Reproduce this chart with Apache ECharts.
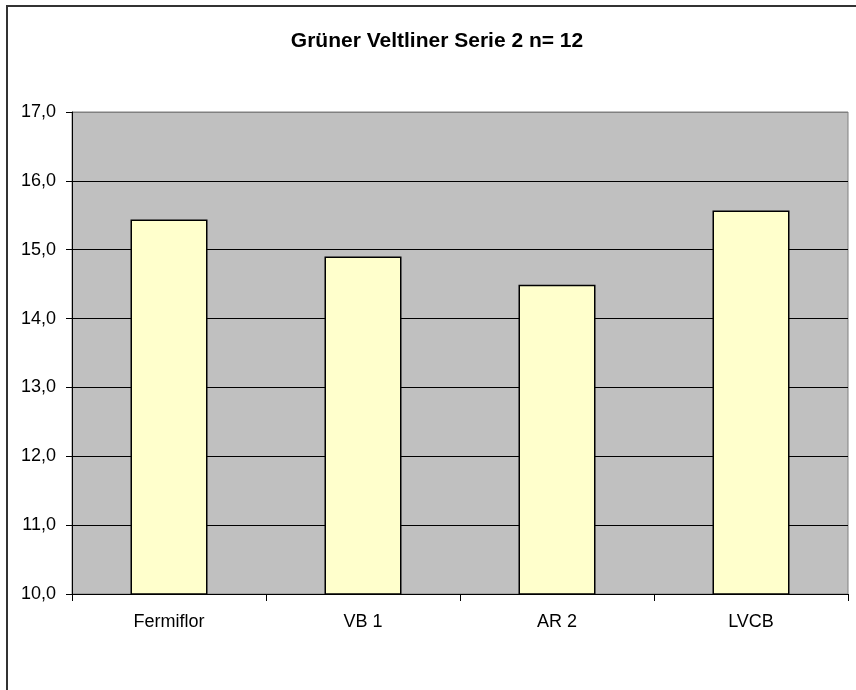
<!DOCTYPE html>
<html>
<head>
<meta charset="utf-8">
<script src="https://cdn.jsdelivr.net/npm/echarts@6/dist/echarts.min.js"></script>
<style>
  html, body { margin: 0; padding: 0; background: #fff; }
  #chart { width: 856px; height: 690px; }
</style>
</head>
<body>
<div id="chart"></div>
<script>
// Kategorien und Werte
var categories = ['Fermiflor', 'VB 1', 'AR 2', 'LVCB'];
var values = [15.44, 14.90, 14.49, 15.57];
var yTicks = [10, 11, 12, 13, 14, 15, 16, 17];

var chart = echarts.init(document.getElementById('chart'), null, { renderer: 'canvas' });

// oberste Linie grau wie der Rahmen
var gridColors = yTicks.map(function (t, i) { return i === yTicks.length - 1 ? '#808080' : '#000'; });

var option = {
  animation: false,
  backgroundColor: '#ffffff',
  title: {
    text: 'Grüner Veltliner Serie 2 n= 12',
    left: 432,
    textAlign: 'center',
    top: 26,
    textStyle: { fontFamily: 'Liberation Sans, Arial', fontWeight: 'bold', fontSize: 21, color: '#000' }
  },
  // äußerer Rahmen
  graphic: [{
    type: 'rect',
    shape: { x: 7, y: 6, width: 900, height: 800 },
    style: { fill: 'none', stroke: '#333', lineWidth: 2 },
    silent: true
  }],
  grid: {
    left: 72, right: 8, top: 112, bottom: 96,
    show: true,
    backgroundColor: '#c0c0c0',
    borderColor: '#808080',
    borderWidth: 1
  },
  xAxis: {
    type: 'category',
    data: categories,
    axisLine: { lineStyle: { color: '#000', width: 1 } },
    axisTick: { show: true, length: 7, lineStyle: { color: '#000' } },
    axisLabel: { color: '#000', fontSize: 18, fontFamily: 'Liberation Sans, Arial', margin: 19 }
  },
  yAxis: {
    type: 'value',
    min: yTicks[0],
    max: yTicks[yTicks.length - 1],
    interval: 1,
    axisLine: { show: true, lineStyle: { color: '#000', width: 1 } },
    axisTick: { show: true, length: 6, lineStyle: { color: '#000' } },
    axisLabel: {
      color: '#000', fontSize: 18, fontFamily: 'Liberation Sans, Arial', margin: 16,
      formatter: function (v) { return v.toFixed(1).replace('.', ','); }
    },
    splitLine: { show: true, lineStyle: { color: gridColors, width: 1 } }
  },
  series: [{
    type: 'bar',
    data: values,
    barWidth: 77,
    itemStyle: { color: '#ffffcc', borderColor: '#000', borderWidth: 1.5 }
  }]
};
chart.setOption(option);
</script>
</body>
</html>
